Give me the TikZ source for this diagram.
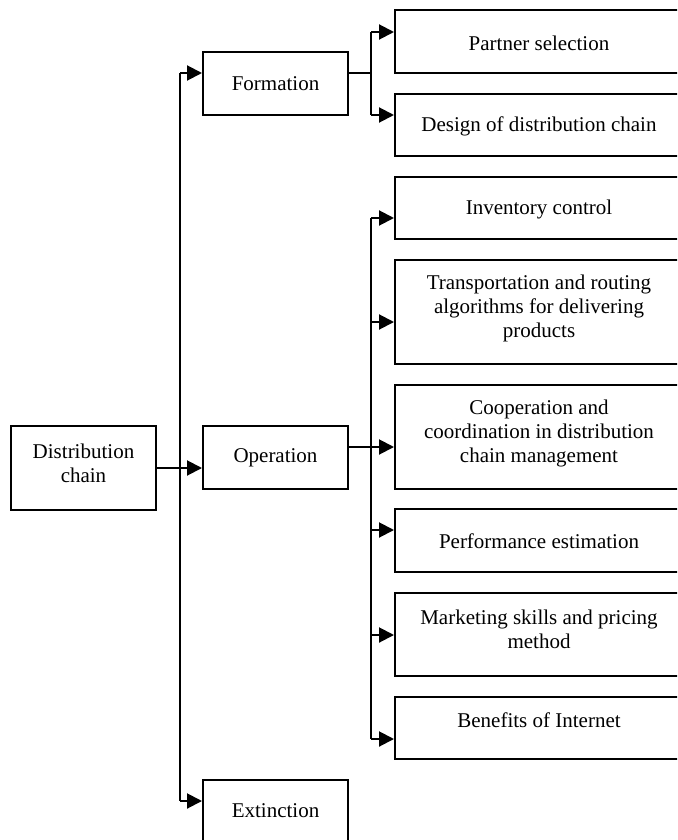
\documentclass[tikz,border=0pt]{standalone}
\usepackage{fontspec}
\setmainfont{Liberation Serif}
\usetikzlibrary{arrows.meta}
\begin{document}
\begin{tikzpicture}[x=0.5pt,y=-0.5pt,
  box/.style={draw,line width=1pt,rectangle,inner sep=0pt,minimum width=72.5pt},
  wide/.style={draw,line width=1pt,rectangle,inner sep=0pt,minimum width=144pt},
  txt/.style={align=center,inner sep=0pt,font=\fontsize{10.5pt}{12pt}\selectfont},
  line/.style={line width=1pt},
  arr/.style={line width=1pt,-{Triangle[length=7.5pt,width=7.5pt]}}]
\path[use as bounding box] (0,0) rectangle (677,840);
\clip (0,0) rectangle (677,840);

% first level
\node[box,minimum height=42pt] (dc) at (83.5,468) {};
\node[txt] at (83.5,463) {Distribution\\chain};

% second level
\node[box,minimum height=31.5pt] (form) at (275.5,83.5) {};
\node[txt] at (form) {Formation};
\node[box,minimum height=31.5pt] (oper) at (275.5,457.5) {};
\node[txt] at (oper) {Operation};
\node[box,minimum height=31.5pt] (ext) at (275.5,811.5) {};
\node[txt] at (275.5,811) {Extinction};

% third level
\node[wide,minimum height=31.5pt] (ps) at (539,41.5) {};
\node[txt] at (539,43) {Partner selection};
\node[wide,minimum height=31pt] (dd) at (539,125) {};
\node[txt] at (539,126) {Design of distribution chain};
\node[wide,minimum height=31pt] (inv) at (539,208) {};
\node[txt] at (539,209) {Inventory control};
\node[wide,minimum height=52pt] (tr) at (539,312) {};
\node[txt] at (539,308) {Transportation and routing\\algorithms for delivering\\products};
\node[wide,minimum height=52pt] (co) at (539,437) {};
\node[txt] at (539,433) {Cooperation and\\coordination in distribution\\chain management};
\node[wide,minimum height=31.5pt] (pe) at (539,540.5) {};
\node[txt] at (539,541.5) {Performance estimation};
\node[wide,minimum height=41.5pt] (mk) at (539,634.5) {};
\node[txt] at (539,629) {Marketing skills and pricing\\method};
\node[wide,minimum height=31pt] (be) at (539,728) {};
\node[txt] at (539,720) {Benefits of Internet};

% spine from the root to the three phases
\coordinate (lsTop) at (180,73);
\coordinate (lsBot) at (180,801);
\draw[line] (lsTop) -- (lsBot);
\draw[arr] (lsTop) -- (lsTop -| form.west);
\draw[arr] (lsBot) -- (lsBot -| ext.west);
\draw[arr] (dc.east) -- (dc.east -| oper.west);

% formation branch
\coordinate (fj) at (371,73);
\coordinate (fjTop) at (371,32);
\coordinate (fjBot) at (371,115);
\draw[line] (fj -| form.east) -- (fj);
\draw[line] (fjTop) -- (fjBot);
\draw[arr] (fjTop) -- (fjTop -| ps.west);
\draw[arr] (fjBot) -- (fjBot -| dd.west);

% operation branch
\coordinate (ojTop) at (371,218);
\coordinate (ojBot) at (371,739);
\coordinate (ojTr) at (371,322);
\coordinate (ojCo) at (371,447);
\coordinate (ojPe) at (371,530);
\coordinate (ojMk) at (371,635);
\draw[line] (ojTop) -- (ojBot);
\draw[line] (ojCo -| oper.east) -- (ojCo);
\draw[arr] (ojTop) -- (ojTop -| inv.west);
\draw[arr] (ojTr) -- (ojTr -| tr.west);
\draw[arr] (ojCo) -- (ojCo -| co.west);
\draw[arr] (ojPe) -- (ojPe -| pe.west);
\draw[arr] (ojMk) -- (ojMk -| mk.west);
\draw[arr] (ojBot) -- (ojBot -| be.west);
\end{tikzpicture}
\end{document}
